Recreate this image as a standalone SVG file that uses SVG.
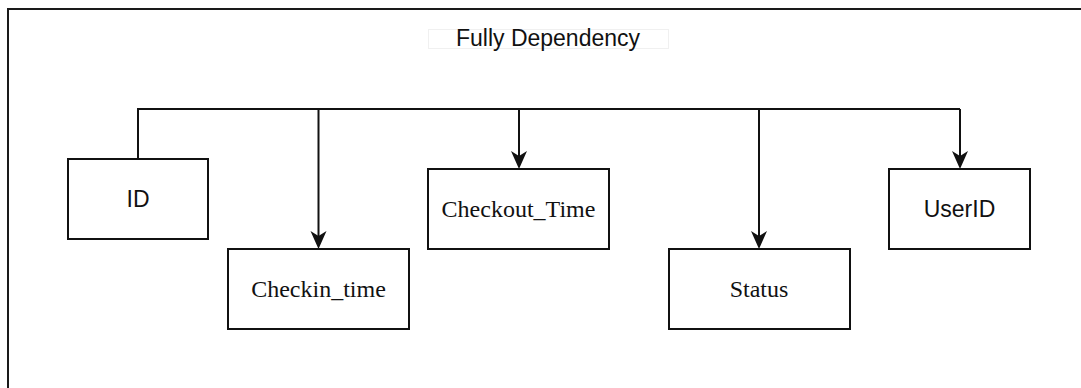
<svg xmlns="http://www.w3.org/2000/svg" width="1081" height="388" viewBox="0 0 1081 388">
  <style>
    .box { fill: #ffffff; stroke: #111111; stroke-width: 2; }
    .sans { font-family: "Liberation Sans", Arial, sans-serif; font-size: 23px; fill: #111111; text-anchor: middle; }
    .serif { font-family: "Liberation Serif", "Times New Roman", serif; font-size: 24px; fill: #111111; text-anchor: middle; }
    .conn { fill: none; stroke: #111111; stroke-width: 2; }
    .head { fill: #111111; }
  </style>
  <defs>
    <path id="arrowhead" class="head" d="M0,0 L-8,-18 L0,-13 L8,-18 Z"/>
  </defs>
  <rect width="1081" height="388" fill="#ffffff"/>
  <g id="frame">
    <path d="M8,388 L8,9 L1081,9" fill="none" stroke="#1a1a1a" stroke-width="2"/>
  </g>
  <g id="title">
    <rect x="428.5" y="29.5" width="240" height="19" fill="#ffffff" stroke="#f0f0f0" stroke-width="1"/>
    <text class="sans" x="548" y="46">Fully Dependency</text>
  </g>
  <g id="connectors">
    <path class="conn" d="M138,159 L138,109 L960,109"/>
    <path class="conn" d="M318.5,109 L318.5,236"/>
    <path class="conn" d="M519,109 L519,156"/>
    <path class="conn" d="M759,109 L759,236"/>
    <path class="conn" d="M960,109 L960,156"/>
    <use href="#arrowhead" x="318.5" y="249"/>
    <use href="#arrowhead" x="519" y="169"/>
    <use href="#arrowhead" x="759" y="249"/>
    <use href="#arrowhead" x="960" y="169"/>
  </g>
  <g id="node-id">
    <rect class="box" x="68" y="159" width="140" height="80"/>
    <text class="sans" x="138" y="207">ID</text>
  </g>
  <g id="node-checkin">
    <rect class="box" x="228" y="249" width="181" height="80"/>
    <text class="serif" x="318.5" y="296.5">Checkin_time</text>
  </g>
  <g id="node-checkout">
    <rect class="box" x="428" y="169" width="181" height="80"/>
    <text class="serif" x="518.5" y="216.5">Checkout_Time</text>
  </g>
  <g id="node-status">
    <rect class="box" x="669" y="249" width="181" height="80"/>
    <text class="serif" x="759" y="296.5">Status</text>
  </g>
  <g id="node-userid">
    <rect class="box" x="889" y="169" width="141" height="80"/>
    <text class="sans" x="959.5" y="216.5">UserID</text>
  </g>
</svg>
